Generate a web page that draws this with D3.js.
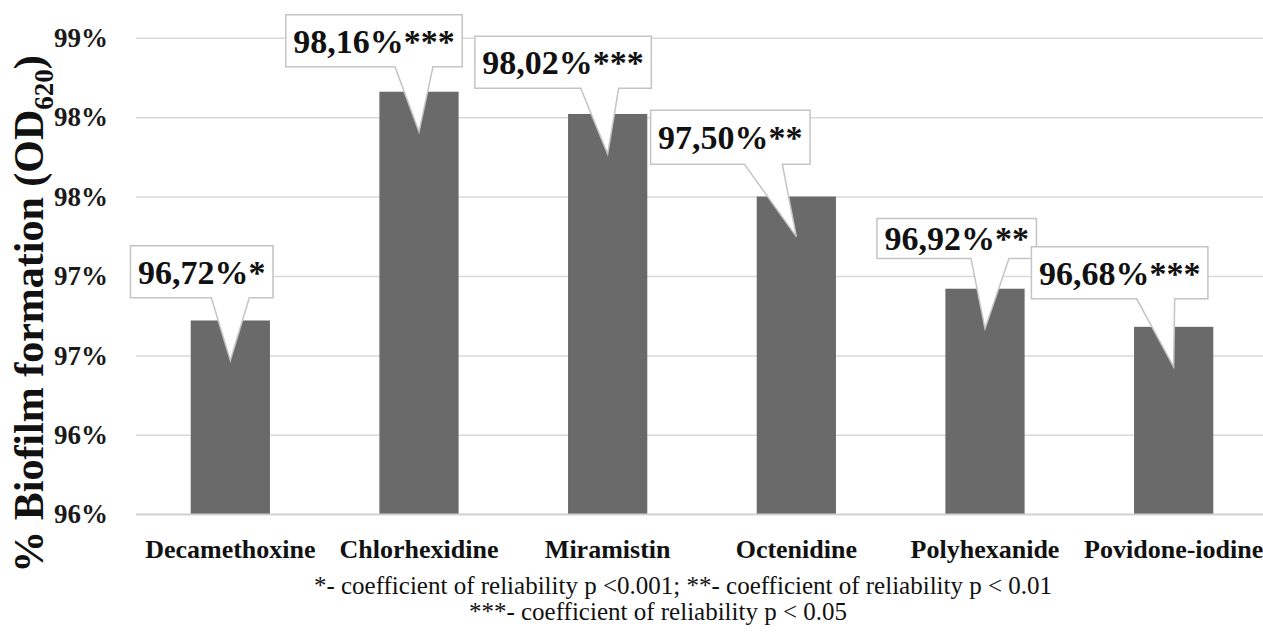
<!DOCTYPE html>
<html>
<head>
<meta charset="utf-8">
<script src="https://cdn.jsdelivr.net/npm/d3@7"></script>
<style>
  html, body { margin: 0; padding: 0; background: #ffffff; }
  svg { display: block; }
</style>
</head>
<body>
<svg id="chart" width="1263" height="633"></svg>
<script>
// ---------- DATA ----------
const categories = ["Decamethoxine", "Chlorhexidine", "Miramistin", "Octenidine", "Polyhexanide", "Povidone-iodine"];
const values = [96.72, 98.16, 98.02, 97.50, 96.92, 96.68];
const significance = ["*", "***", "***", "**", "**", "***"];
const tickValues = [95.5, 96.0, 96.5, 97.0, 97.5, 98.0, 98.5];
const tickLabels = ["96%", "96%", "97%", "97%", "98%", "98%", "99%"];
const yTitle = "% Biofilm formation (OD";
const yTitleSub = "620";
const footnotes = [
  "*- coefficient of reliability p <0.001; **- coefficient of reliability p < 0.01",
  "***- coefficient of reliability p < 0.05"
];

// ---------- LAYOUT (callout placement relative to its bar) ----------
const calloutLayout = [
  { dx: -28.6, gap: 22.7, tail: 0,   h: 52 },
  { dx: -45,   gap: 25,   tail: -5,  h: 52 },
  { dx: -44.6, gap: 25.7, tail: -8,  h: 52 },
  { dx: -66,   gap: 32.4, tail: -33, h: 54 },
  { dx: -28.3, gap: 30.3, tail: 5,   h: 40 },
  { dx: -54,   gap: 28,   tail: -18, h: 52 }
];

const serif = '"Liberation Serif", serif';
const svg = d3.select("#chart");

const plot = { left: 136, right: 1268, top: 37.7, bottom: 514.3 };

const x = d3.scaleBand().domain(categories).range([plot.left, plot.right]).paddingInner(0.58).paddingOuter(0.29);
const y = d3.scaleLinear().domain([95.5, 98.5]).range([plot.bottom, plot.top]);

// grid + y axis
const yAxis = d3.axisLeft(y)
  .tickValues(tickValues)
  .tickFormat((d, i) => tickLabels[i])
  .tickSize(-(plot.right - plot.left))
  .tickPadding(28);

const gy = svg.append("g").attr("transform", `translate(${plot.left},0)`).call(yAxis);
gy.attr("font-family", null).attr("font-size", null);
gy.select(".domain").remove();
gy.selectAll(".tick line").attr("stroke", "#d9d9d9").attr("stroke-width", 1.5);
gy.selectAll(".tick text")
  .attr("fill", "#1a1a1a")
  .style("font-family", serif)
  .style("font-weight", "bold")
  .style("font-size", "27px");

// bars
svg.append("g").selectAll("rect")
  .data(values)
  .join("rect")
  .attr("x", (d, i) => x(categories[i]))
  .attr("width", x.bandwidth())
  .attr("y", d => y(d))
  .attr("height", d => y(95.5) - y(d))
  .attr("fill", "#6a6a6a");

// x axis
const xAxis = d3.axisBottom(x).tickSize(0).tickPadding(0);
const gx = svg.append("g").attr("transform", `translate(0,${plot.bottom})`).call(xAxis);
gx.attr("font-family", null).attr("font-size", null);
gx.select(".domain").attr("stroke", "#cfcfcf").attr("stroke-width", 1.5)
  .attr("d", `M${plot.left},0H${plot.right}`);
gx.selectAll(".tick text")
  .attr("y", 44).attr("dy", 0)
  .attr("fill", "#111")
  .style("font-family", serif)
  .style("font-weight", "bold")
  .style("font-size", "26px");

// y title
const yt = svg.append("text")
  .attr("transform", `translate(43,314) rotate(-90)`)
  .attr("text-anchor", "middle")
  .attr("fill", "#111")
  .style("font-family", serif)
  .style("font-weight", "bold")
  .style("font-size", "42px");
yt.append("tspan").text(yTitle);
yt.append("tspan").attr("dy", 10).style("font-size", "27px").text(yTitleSub);
yt.append("tspan").attr("dy", -10).text(")");

// callouts
const cg = svg.append("g");
values.forEach((v, i) => {
  const L = calloutLayout[i];
  const cx = x(categories[i]) + x.bandwidth() / 2;
  const top = y(v);
  const tipY = top + 40;
  const label = v.toFixed(2).replace(".", ",") + "%" + significance[i];
  const g = cg.append("g");
  const t = g.append("text")
    .text(label)
    .attr("text-anchor", "middle")
    .attr("fill", "#111")
    .style("font-family", serif)
    .style("font-weight", "bold")
    .style("font-size", "34px");
  const w = t.node().getComputedTextLength() + 15;
  const bcx = cx + L.dx;
  const bottom = top - L.gap;
  const btop = bottom - L.h;
  const left = bcx - w / 2, right = bcx + w / 2;
  const tb = cx + L.tail;
  const path = `M${left},${btop}H${right}V${bottom}H${tb + 19}L${cx},${tipY}L${tb - 19},${bottom}H${left}Z`;
  g.insert("path", "text")
    .attr("d", path)
    .attr("fill", "#ffffff")
    .attr("stroke", "#c4c4c4")
    .attr("stroke-width", 1.5);
  t.attr("x", bcx).attr("y", (btop + bottom) / 2 + 12);
});

// footnotes
svg.append("text").attr("x", 683).attr("y", 594).attr("text-anchor", "middle")
  .attr("fill", "#111").style("font-family", serif).style("font-size", "25px").text(footnotes[0]);
svg.append("text").attr("x", 658).attr("y", 620).attr("text-anchor", "middle")
  .attr("fill", "#111").style("font-family", serif).style("font-size", "25px").text(footnotes[1]);
</script>
</body>
</html>
